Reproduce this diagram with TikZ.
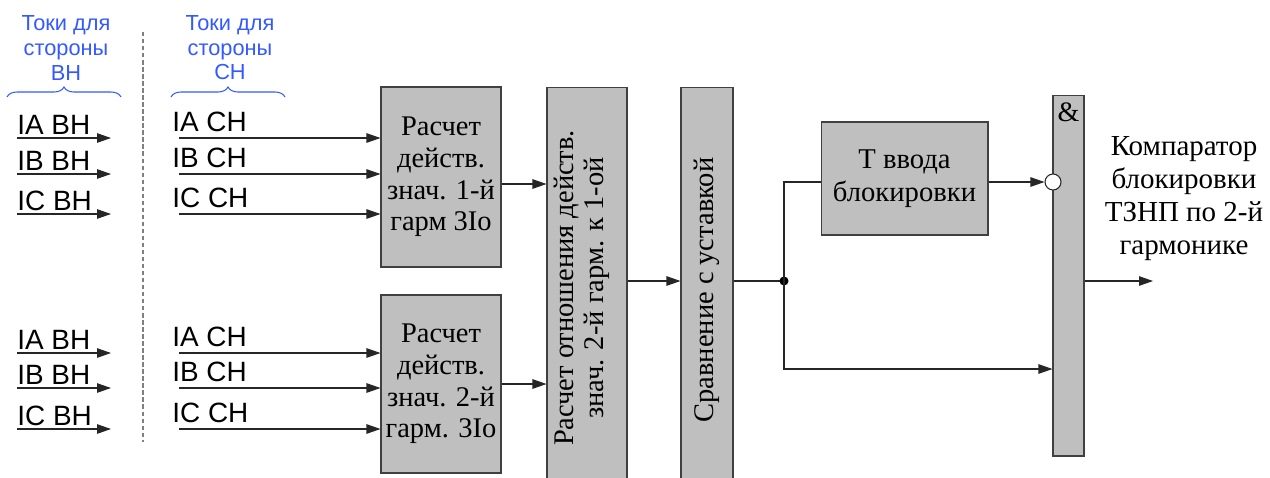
\documentclass[tikz,border=0pt]{standalone}
\usepackage{fontspec}
\setmainfont{Liberation Serif}
\setsansfont{Liberation Sans}
\usepackage{tikz}
\usetikzlibrary{arrows.meta, positioning, decorations.pathreplacing, calc}
\definecolor{sideblue}{RGB}{51,89,255}
\tikzset{
  calcbox/.style={
    rectangle, draw=black!75, fill=gray!50, line width=0.6pt,
    inner sep=0pt, text centered, align=center,
    font=\fontsize{16.2}{18}\selectfont
  },
  sidelabel/.style={
    align=center, inner sep=0pt, text=sideblue,
    font=\sffamily\fontsize{12.4}{14}\selectfont
  },
  inlabel/.style={
    anchor=south west, inner xsep=0pt, inner ysep=0.06cm,
    font=\sffamily\fontsize{15.9}{18}\selectfont
  },
  sigarrow/.style={-{Triangle[length=0.28cm,width=0.19cm]}, line width=0.6pt, color=black!85},
  sigline/.style={line width=0.6pt, color=black!85},
  sidebrace/.style={decorate, decoration={brace, amplitude=0.2cm},
    draw=sideblue, line width=0.6pt},
}
\begin{document}
\begin{tikzpicture}[x=0.02cm, y=-0.02cm]
  \useasboundingbox (0,0) rectangle (1270,477);
  \clip (0,0) rectangle (1270,477);

  % group headers
  \node[sidelabel] (hbh) at (66,48) {Токи для\\стороны\\ВН};
  \node[sidelabel] (hch) at (230,48) {Токи для\\стороны\\СН};
  \draw[sidebrace] (7,97) -- (121,97);
  \draw[sidebrace] (171,97) -- (285,97);
  \draw[gray, dashed, dash pattern=on 2.5pt off 1.5pt, line width=0.6pt] (143,32) -- (143,442);

  % blocks
  \node[calcbox, minimum width=2.4cm, minimum height=3.6cm] (b1) at (441,177)
    {Расчет\\действ.\\знач. 1-й\\гарм 3Io};
  \node[calcbox, minimum width=2.4cm, minimum height=3.56cm] (b2) at (441,384)
    {Расчет\\действ.\\знач. 2-й\\гарм. 3Io};
  \node[calcbox, minimum width=1.6cm, minimum height=8.04cm] (b3) at (587,288) {};
  \node[rotate=90, align=center, inner sep=0pt, font=\fontsize{16.2}{17}\selectfont]
    (b3t) at ([xshift=-0.1cm]b3.center) {Расчет отношения действ.\\знач. 2-й гарм. к 1-ой};
  \node[calcbox, minimum width=1.04cm, minimum height=8.12cm] (b4) at (707,290) {};
  \node[rotate=90, inner sep=0pt, font=\fontsize{16.2}{17}\selectfont]
    (b4t) at (b4.center) {Сравнение с уставкой};
  \node[calcbox, minimum width=3.34cm, minimum height=2.26cm,
        font=\fontsize{16.3}{19}\selectfont] (tb) at (904.5,178.5) {Т ввода\\блокировки};
  \node[calcbox, minimum width=0.62cm, minimum height=7.22cm] (and) at (1068.5,275.5) {};
  \node[inner sep=0pt, font=\fontsize{16}{16}\selectfont, below=0.16cm of and.north] (ands) {\&};

  % inputs BH
  \node[inlabel] (ia1) at (17,138) {IА ВН};
  \node[inlabel] (ib1) at (17,174) {IВ ВН};
  \node[inlabel] (ic1) at (17,214) {IС ВН};
  \node[inlabel] (ia2) at (17,353) {IА ВН};
  \node[inlabel] (ib2) at (17,388) {IВ ВН};
  \node[inlabel] (ic2) at (17,429) {IС ВН};
  \draw[sigarrow] (ia1.south west) -- ++(94,0);
  \draw[sigarrow] (ib1.south west) -- ++(94,0);
  \draw[sigarrow] (ic1.south west) -- ++(94,0);
  \draw[sigarrow] (ia2.south west) -- ++(94,0);
  \draw[sigarrow] (ib2.south west) -- ++(94,0);
  \draw[sigarrow] (ic2.south west) -- ++(94,0);

  % inputs CH
  \node[inlabel, inner ysep=0.12cm] (ja1) at (172,138) {IА СН};
  \node[inlabel, inner ysep=0.12cm] (jb1) at (172,174) {IВ СН};
  \node[inlabel, inner ysep=0.12cm] (jc1) at (172,214) {IС СН};
  \node[inlabel, inner ysep=0.12cm] (ja2) at (172,353) {IА СН};
  \node[inlabel, inner ysep=0.12cm] (jb2) at (172,388) {IВ СН};
  \node[inlabel, inner ysep=0.12cm] (jc2) at (172,429) {IС СН};
  \draw[sigarrow] ($(ja1.south west)+(7,0)$) -- (ja1.south west -| b1.west);
  \draw[sigarrow] ($(jb1.south west)+(7,0)$) -- (jb1.south west -| b1.west);
  \draw[sigarrow] ($(jc1.south west)+(7,0)$) -- (jc1.south west -| b1.west);
  \draw[sigarrow] ($(ja2.south west)+(7,0)$) -- (ja2.south west -| b2.west);
  \draw[sigarrow] ($(jb2.south west)+(7,0)$) -- (jb2.south west -| b2.west);
  \draw[sigarrow] ($(jc2.south west)+(7,0)$) -- (jc2.south west -| b2.west);

  % chain
  \draw[sigarrow] (b1.east |- 0,184) -- (b3.west |- 0,184);
  \draw[sigarrow] (b2.east |- 0,384) -- (b3.west |- 0,384);
  \draw[sigarrow] (b3.east |- 0,281) -- (b4.west |- 0,281);
  \coordinate (jn) at (784,281);
  \draw[sigline] (b4.east |- jn) -- (jn);
  \fill (jn) circle (4.5);
  \node[circle, draw=black!85, fill=white, line width=0.6pt, minimum size=0.32cm,
        inner sep=0pt] (inv) at (1053,182) {};
  \draw[sigline] (jn) |- (tb.west |- inv);
  \draw[sigarrow] (tb.east |- inv) -- (inv.west);
  \draw[sigarrow] (jn) |- (and.west |- 0,369);
  \coordinate (out) at (1153,281);
  \draw[sigarrow] (and.east |- out) -- (out);
  \node[align=center, inner sep=0pt, font=\fontsize{16.5}{18.8}\selectfont] (outl) at (1184,199)
    {Компаратор\\блокировки\\ТЗНП по 2-й\\гармонике};
\end{tikzpicture}
\end{document}
